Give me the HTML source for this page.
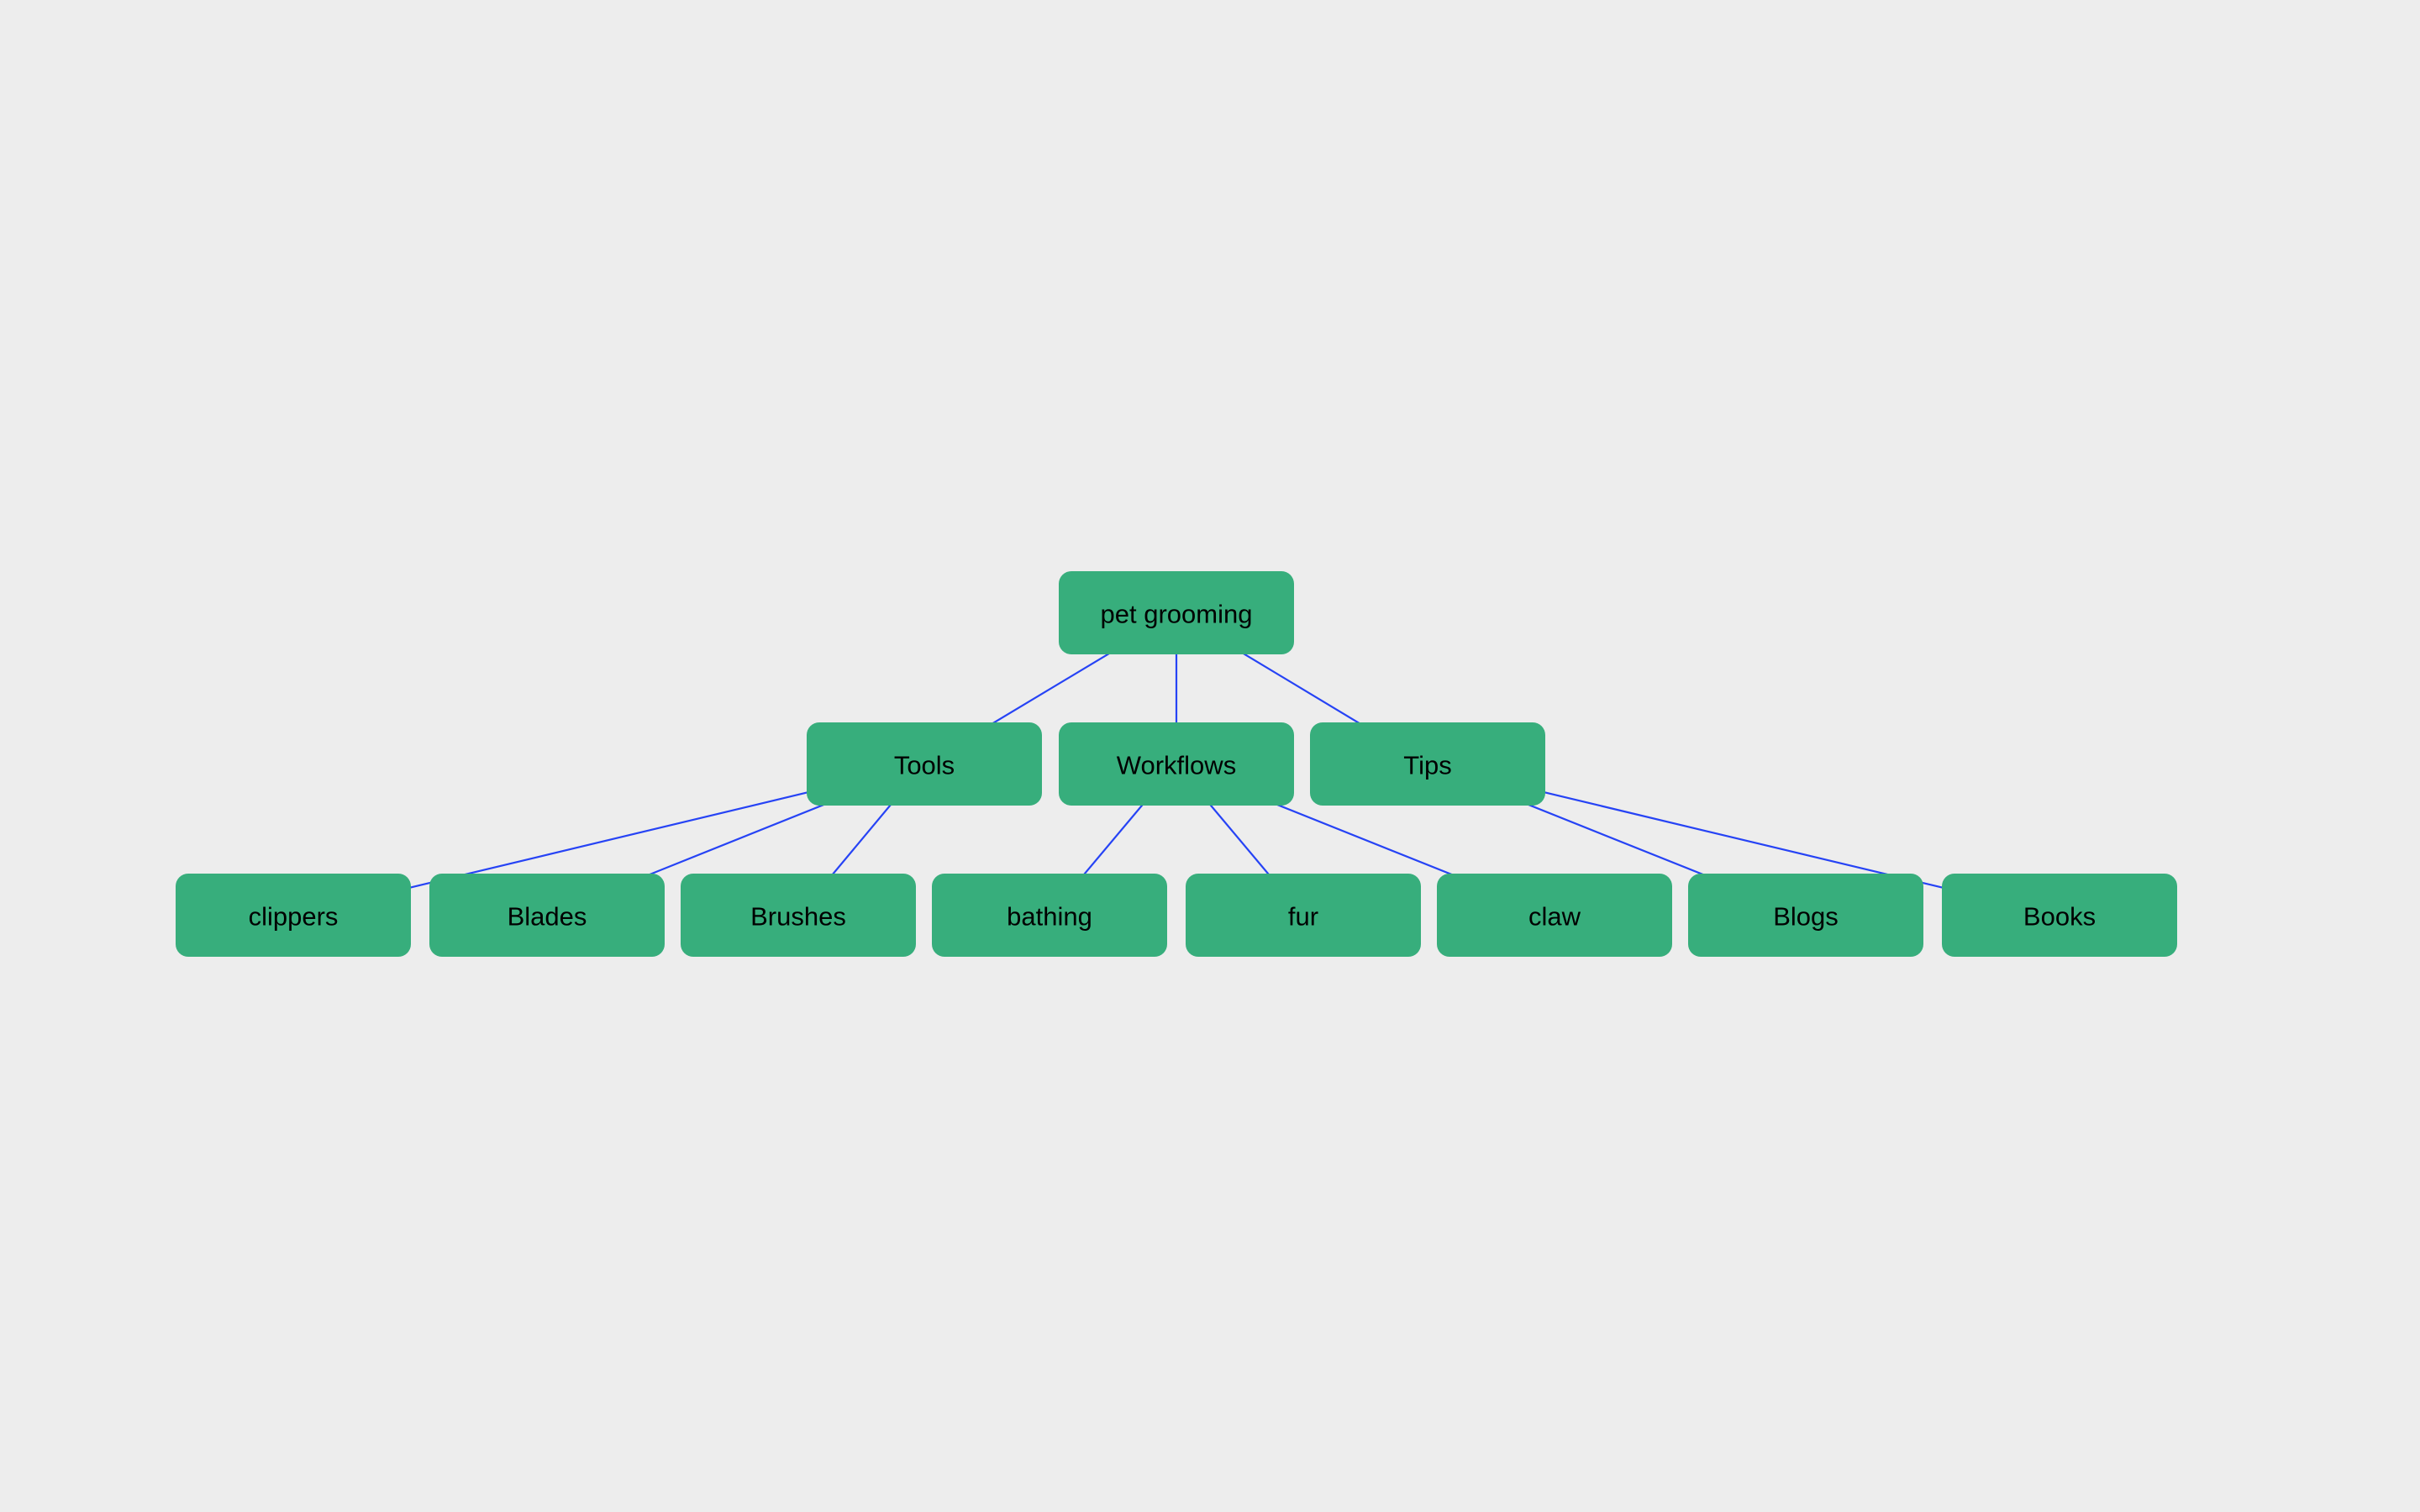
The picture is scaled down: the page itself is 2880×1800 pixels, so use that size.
<!DOCTYPE html>
<html><head><meta charset="utf-8"><style>
html,body{margin:0;padding:0;background:#ededed;}
svg{display:block}
text{font-family:"Liberation Sans",Arial,sans-serif;font-size:31px;fill:#000;text-anchor:middle;dominant-baseline:central}
rect{fill:#37ae7c}
line{stroke:#2643f5;stroke-width:2.2}
</style></head><body>
<svg width="2880" height="1800" viewBox="0 0 2880 1800">
<rect x="0" y="0" width="2880" height="1800" style="fill:#ededed"/>
<g>
<line x1="1400" y1="730" x2="1100" y2="910"/>
<line x1="1400" y1="730" x2="1400" y2="910"/>
<line x1="1400" y1="730" x2="1699" y2="910"/>
<line x1="1100" y1="910" x2="349" y2="1090"/>
<line x1="1100" y1="910" x2="651" y2="1090"/>
<line x1="1100" y1="910" x2="950" y2="1090"/>
<line x1="1400" y1="910" x2="1249" y2="1090"/>
<line x1="1400" y1="910" x2="1551" y2="1090"/>
<line x1="1400" y1="910" x2="1850" y2="1090"/>
<line x1="1699" y1="910" x2="2149" y2="1090"/>
<line x1="1699" y1="910" x2="2451" y2="1090"/>
</g>
<g>
<rect x="1260" y="680" width="280" height="99" rx="15"/><text x="1400" y="731">pet grooming</text>
<rect x="960" y="860" width="280" height="99" rx="15"/><text x="1100" y="911">Tools</text>
<rect x="1260" y="860" width="280" height="99" rx="15"/><text x="1400" y="911">Workflows</text>
<rect x="1559" y="860" width="280" height="99" rx="15"/><text x="1699" y="911">Tips</text>
<rect x="209" y="1040" width="280" height="99" rx="15"/><text x="349" y="1091">clippers</text>
<rect x="511" y="1040" width="280" height="99" rx="15"/><text x="651" y="1091">Blades</text>
<rect x="810" y="1040" width="280" height="99" rx="15"/><text x="950" y="1091">Brushes</text>
<rect x="1109" y="1040" width="280" height="99" rx="15"/><text x="1249" y="1091">bathing</text>
<rect x="1411" y="1040" width="280" height="99" rx="15"/><text x="1551" y="1091">fur</text>
<rect x="1710" y="1040" width="280" height="99" rx="15"/><text x="1850" y="1091">claw</text>
<rect x="2009" y="1040" width="280" height="99" rx="15"/><text x="2149" y="1091">Blogs</text>
<rect x="2311" y="1040" width="280" height="99" rx="15"/><text x="2451" y="1091">Books</text>
</g>
</svg>
</body></html>
